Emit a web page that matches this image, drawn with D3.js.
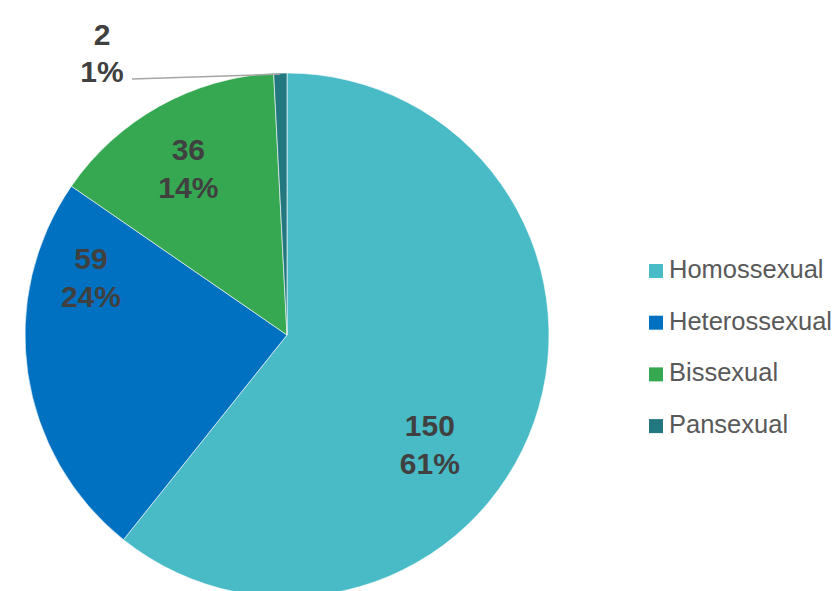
<!DOCTYPE html>
<html>
<head>
<meta charset="utf-8">
<script src="https://cdn.jsdelivr.net/npm/d3@7"></script>
<style>
  body { margin: 0; background: #fff; }
  svg { display: block; }
</style>
</head>
<body>
<svg id="chart"></svg>
<script>
let w = 840;
let h = 591;

// data
let categories = ["Homossexual", "Heterossexual", "Bissexual", "Pansexual"];
let counts = [150, 59, 36, 2];
let colors = ["#48BBC6", "#0070C0", "#36A852", "#237880"];

let cx = 287, cy = 335, radius = 262;

// label nudges from the centroid (layout only)
let labelNudge = {
    Homossexual: [-27, 49],
    Heterossexual: [-18, -84],
    Bissexual: [-11, -10]
};

let chart = d3.select("#chart")
    .attr("width", w)
    .attr("height", h);

let total = d3.sum(counts);

// percentages rounded so they add up to 100 (largest remainder)
let raw = counts.map(c => c / total * 100);
let pcts = raw.map(Math.floor);
let left = 100 - d3.sum(pcts);
d3.range(counts.length)
    .sort((a, b) => (raw[b] - pcts[b]) - (raw[a] - pcts[a]))
    .slice(0, left)
    .forEach(i => pcts[i] += 1);

let data = categories.map((c, i) => ({ name: c, value: counts[i], pct: pcts[i] }));

let cScale = d3.scaleOrdinal().domain(categories).range(colors);

let pie = d3.pie()
    .sort(null)
    .value(d => d.value);

let arcs = pie(data);

let arc = d3.arc()
    .innerRadius(0)
    .outerRadius(radius);

let labelArc = d3.arc()
    .innerRadius(180)
    .outerRadius(180);

let outerArc = d3.arc()
    .innerRadius(radius)
    .outerRadius(radius);

let g = chart.append("g")
    .attr("transform", `translate(${cx}, ${cy})`);

g.selectAll("path")
    .data(arcs)
    .join("path")
    .attr("d", arc)
    .attr("fill", d => cScale(d.data.name))
    .attr("stroke", "#ffffff")
    .attr("stroke-width", 0.6);

let pct = d => d.data.pct + "%";

// inside labels
let inside = arcs.filter(d => labelNudge[d.data.name]);
let lab = g.selectAll("text.lab")
    .data(inside)
    .join("text")
    .attr("class", "lab")
    .attr("text-anchor", "middle")
    .attr("font-family", "Liberation Sans, Arial, sans-serif")
    .attr("font-weight", "bold")
    .attr("font-size", 30)
    .attr("fill", "#404040")
    .attr("transform", d => {
        let c = labelArc.centroid(d);
        let n = labelNudge[d.data.name];
        return `translate(${c[0] + n[0]}, ${c[1] + n[1]})`;
    });
lab.append("tspan").attr("x", 0).attr("y", -8).text(d => d.data.value);
lab.append("tspan").attr("x", 0).attr("y", 30).text(pct);

// outside label with leader line for the small slice
let small = arcs.filter(d => !labelNudge[d.data.name]);
small.forEach(d => {
    let p = outerArc.centroid(d);
    let tx = 102 - cx, ty = 52 - cy;
    g.append("line")
        .attr("x1", tx + 30).attr("y1", ty + 27)
        .attr("x2", p[0]).attr("y2", p[1] + 1)
        .attr("stroke", "#A6A6A6")
        .attr("stroke-width", 1.5);
    let t = g.append("text")
        .attr("text-anchor", "middle")
        .attr("font-family", "Liberation Sans, Arial, sans-serif")
        .attr("font-weight", "bold")
        .attr("font-size", 30)
        .attr("fill", "#404040")
        .attr("transform", `translate(${tx}, ${ty})`);
    t.append("tspan").attr("x", 0).attr("y", -7).text(d.data.value);
    t.append("tspan").attr("x", 0).attr("y", 30).text(pct(d));
});

// legend
let legend = chart.append("g")
    .attr("font-family", "Liberation Sans, Arial, sans-serif")
    .attr("font-size", 25.5)
    .selectAll("g")
    .data(categories)
    .join("g")
    .attr("transform", (d, i) => `translate(649, ${271 + i * 51.7})`);

legend.append("rect")
    .attr("x", 0)
    .attr("y", -7)
    .attr("width", 14)
    .attr("height", 14)
    .attr("fill", d => cScale(d));

legend.append("text")
    .attr("x", 20)
    .attr("y", 7)
    .attr("fill", "#595959")
    .text(d => d);
</script>
</body>
</html>
